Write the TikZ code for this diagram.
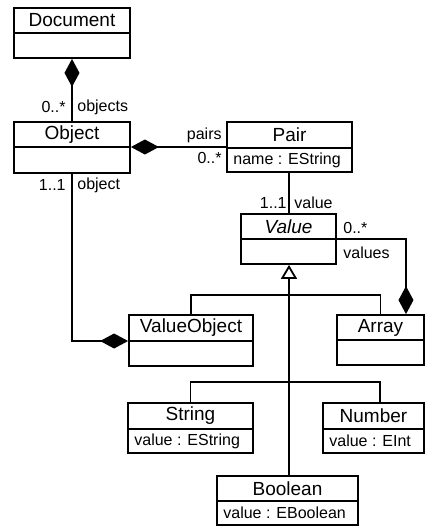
\documentclass[tikz,border=0pt]{standalone}
\usepackage{fontspec}
\setmainfont{Liberation Sans}
\usetikzlibrary{arrows.meta,fit}

\tikzset{
  umlbox/.style={draw, line width=0.9pt, inner sep=0pt},
  classname/.style={font=\fontsize{9.5}{11}\selectfont, inner sep=0pt},
  attr/.style={font=\fontsize{8}{9.6}\selectfont, anchor=west, inner sep=0pt},
  role/.style={font=\fontsize{8}{9.6}\selectfont, inner sep=0pt},
  link/.style={line width=0.9pt},
  comp/.style={link, -{Diamond[length=14pt,width=7.5pt]}},
  gen/.style={link, -{Triangle[open, length=7pt, width=8pt, fill=white]}},
}

% #1 name, #2 left, #3 top, #4 right, #5 bottom, #6 divider, #7 title
\newcommand{\umlclass}[7]{%
  \coordinate (#1-nw) at (#2,#3);
  \coordinate (#1-se) at (#4,#5);
  \node[umlbox, fit=(#1-nw)(#1-se)] (#1) {};
  \draw[link] (#2,#6) -- (#4,#6);
  \node[classname] (#1-title) at ({(#2+#4)/2},{(#3+#6)/2}) {#7};
}

\begin{document}
\begin{tikzpicture}[x=0.5pt,y=-0.5pt]
  \useasboundingbox (0,0) rectangle (425,527);

  % classes
  \umlclass{document}{14}{8}{130}{58}{33}{Document}
  \umlclass{object}{14}{122}{130}{173}{147}{Object}
  \umlclass{pair}{227}{122}{352}{172}{148}{Pair}
  \umlclass{value}{241}{214}{336}{264}{239}{\textit{Value}}
  \umlclass{valueobject}{129}{315}{253}{366}{341}{ValueObject}
  \umlclass{array}{337}{315}{424}{365}{340}{Array}
  \umlclass{string}{128}{403}{253}{453}{429}{String}
  \umlclass{number}{323}{403}{424}{453}{429}{Number}
  \umlclass{boolean}{217}{476}{358}{525}{501}{Boolean}

  % attributes
  \node[attr] (pair-attr) at (233,160) {name : EString};
  \node[attr] (string-attr) at (134,441) {value : EString};
  \node[attr] (number-attr) at (329,441) {value : EInt};
  \node[attr] (boolean-attr) at (223,513) {value : EBoolean};

  % compositions
  \draw[comp] (object.north) -- (document.south);
  \draw[comp] (pair.west |- 0,147) -- (object.east |- 0,147);
  \draw[link] (pair.south -| 289,0) -- (value.north -| 289,0);
  \draw[comp] (value.east |- 0,239) -| (array.north -| 406,0);
  \draw[comp] (object.south) |- (valueobject.west |- 0,341);

  % generalization
  \draw[gen] (boolean.north -| 289,0) -- (value.south -| 289,0);
  \draw[link] (valueobject.north) -- ++(0,-19) -| (array.north);
  \draw[link] (string.north) -- ++(0,-20) -| (number.north -| 380,0);

  % role names and multiplicities
  \node[role, anchor=east] (m-objects) at (66,107) {0..*};
  \node[role, anchor=west] (r-objects) at (77,107) {objects};
  \node[role, anchor=east] (m-object) at (66,185) {1..1};
  \node[role, anchor=west] (r-object) at (77,185) {object};
  \node[role, anchor=east] (r-pairs) at (222,135) {pairs};
  \node[role, anchor=east] (m-pairs) at (222,158) {0..*};
  \node[role, anchor=east] (m-value) at (287,203) {1..1};
  \node[role, anchor=west] (r-value) at (294,203) {value};
  \node[role, anchor=west] (m-values) at (343,228) {0..*};
  \node[role, anchor=west] (r-values) at (343,253) {values};
\end{tikzpicture}
\end{document}
